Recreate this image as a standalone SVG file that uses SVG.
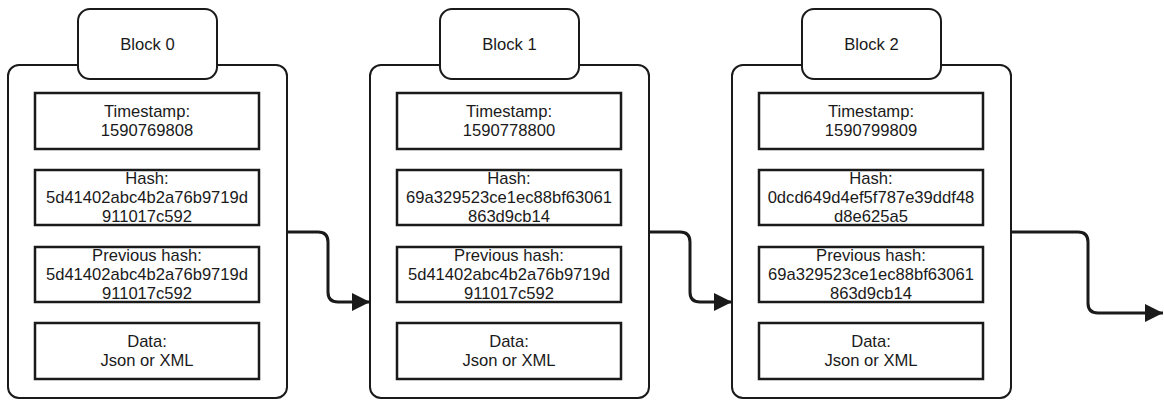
<svg xmlns="http://www.w3.org/2000/svg" width="1164" height="400" viewBox="0 0 1164 400">
  <style>
    .outer { fill: #ffffff; stroke: #1a1a1a; stroke-width: 2; }
    .head { fill: #ffffff; stroke: #1a1a1a; stroke-width: 2; }
    .field { fill: #ffffff; stroke: #1a1a1a; stroke-width: 2.5; }
    .txt { font-family: "Liberation Sans", Arial, sans-serif; font-size: 16.6px; fill: #1a1a1a; text-anchor: middle; }
    .link { fill: none; stroke: #1a1a1a; stroke-width: 3; }
  </style>
  <defs>
    <marker id="arrow" markerUnits="userSpaceOnUse" markerWidth="20" markerHeight="20" refX="18" refY="9" orient="auto">
      <path d="M0,0 L18,9 L0,18 Z" fill="#1a1a1a"/>
    </marker>
  </defs>
  <rect width="1164" height="400" fill="#ffffff"/>

  <!-- Block 0 -->
  <g id="block0">
    <rect class="outer" x="8" y="65" width="279" height="333" rx="11"/>
    <rect class="head" x="78" y="9" width="139" height="70" rx="12"/>
    <text class="txt" x="147.5" y="50">Block 0</text>
    <rect class="field" x="35" y="93" width="224" height="56"/>
    <text class="txt" x="147" y="117">Timestamp:</text>
    <text class="txt" x="147" y="136">1590769808</text>
    <rect class="field" x="35" y="170" width="224" height="55"/>
    <text class="txt" x="147" y="184">Hash:</text>
    <text class="txt" x="147" y="203">5d41402abc4b2a76b9719d</text>
    <text class="txt" x="147" y="222">911017c592</text>
    <rect class="field" x="35" y="247" width="224" height="55"/>
    <text class="txt" x="147" y="261">Previous hash:</text>
    <text class="txt" x="147" y="280">5d41402abc4b2a76b9719d</text>
    <text class="txt" x="147" y="299">911017c592</text>
    <rect class="field" x="35" y="323" width="224" height="56"/>
    <text class="txt" x="147" y="347">Data:</text>
    <text class="txt" x="147" y="366">Json or XML</text>
  </g>

  <!-- Block 1 -->
  <g id="block1">
    <rect class="outer" x="370" y="65" width="279" height="333" rx="11"/>
    <rect class="head" x="440" y="9" width="139" height="70" rx="12"/>
    <text class="txt" x="509.5" y="50">Block 1</text>
    <rect class="field" x="397" y="93" width="224" height="56"/>
    <text class="txt" x="509" y="117">Timestamp:</text>
    <text class="txt" x="509" y="136">1590778800</text>
    <rect class="field" x="397" y="170" width="224" height="55"/>
    <text class="txt" x="509" y="184">Hash:</text>
    <text class="txt" x="509" y="203">69a329523ce1ec88bf63061</text>
    <text class="txt" x="509" y="222">863d9cb14</text>
    <rect class="field" x="397" y="247" width="224" height="55"/>
    <text class="txt" x="509" y="261">Previous hash:</text>
    <text class="txt" x="509" y="280">5d41402abc4b2a76b9719d</text>
    <text class="txt" x="509" y="299">911017c592</text>
    <rect class="field" x="397" y="323" width="224" height="56"/>
    <text class="txt" x="509" y="347">Data:</text>
    <text class="txt" x="509" y="366">Json or XML</text>
  </g>

  <!-- Block 2 -->
  <g id="block2">
    <rect class="outer" x="732" y="65" width="279" height="333" rx="11"/>
    <rect class="head" x="802" y="9" width="139" height="70" rx="12"/>
    <text class="txt" x="871.5" y="50">Block 2</text>
    <rect class="field" x="759" y="93" width="224" height="56"/>
    <text class="txt" x="871" y="117">Timestamp:</text>
    <text class="txt" x="871" y="136">1590799809</text>
    <rect class="field" x="759" y="170" width="224" height="55"/>
    <text class="txt" x="871" y="184">Hash:</text>
    <text class="txt" x="871" y="203">0dcd649d4ef5f787e39ddf48</text>
    <text class="txt" x="871" y="222">d8e625a5</text>
    <rect class="field" x="759" y="247" width="224" height="55"/>
    <text class="txt" x="871" y="261">Previous hash:</text>
    <text class="txt" x="871" y="280">69a329523ce1ec88bf63061</text>
    <text class="txt" x="871" y="299">863d9cb14</text>
    <rect class="field" x="759" y="323" width="224" height="56"/>
    <text class="txt" x="871" y="347">Data:</text>
    <text class="txt" x="871" y="366">Json or XML</text>
  </g>

  <!-- Chain links -->
  <g id="connectors">
    <path class="link" marker-end="url(#arrow)" d="M287,232 H318 Q328,232 328,242 V292 Q328,302 338,302 H370"/>
    <path class="link" marker-end="url(#arrow)" d="M649,232 H680 Q690,232 690,242 V292 Q690,302 700,302 H732"/>
    <path class="link" marker-end="url(#arrow)" d="M1011,232 H1078 Q1088,232 1088,242 V303 Q1088,313 1098,313 H1163"/>
  </g>
</svg>
